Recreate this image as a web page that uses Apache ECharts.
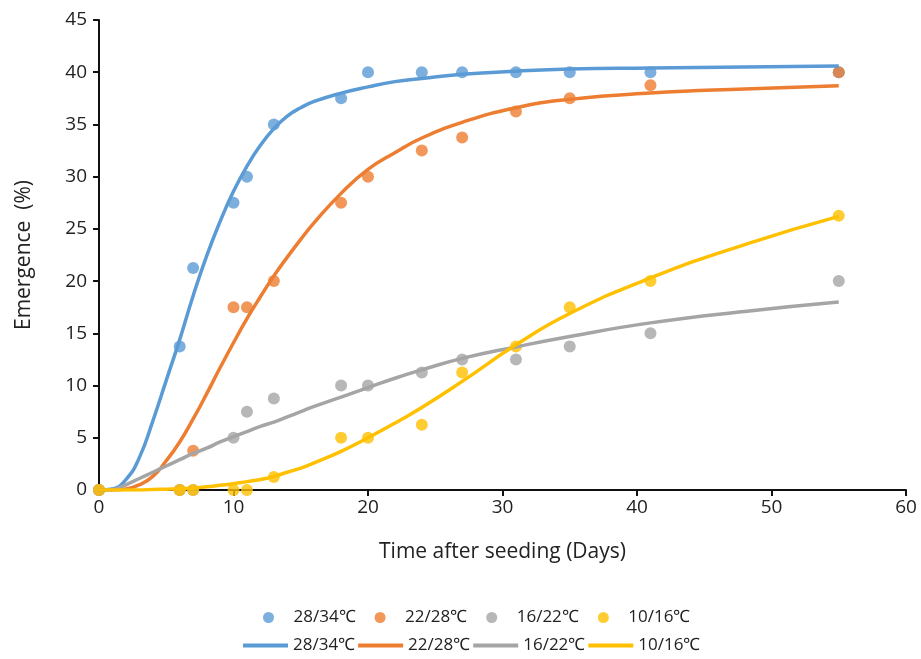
<!DOCTYPE html>
<html>
<head>
<meta charset="utf-8">
<script src="https://cdn.jsdelivr.net/npm/echarts@6/dist/echarts.min.js"></script>
<style>
	html, body {margin: 0; padding: 0; background: #fff;}
	#chart {width: 921px; height: 659px;}
</style>
</head>
<body>
<div id="chart"></div>
<script>
// observed emergence (%)
let days = [0, 6, 7, 10, 11, 13, 18, 20, 24, 27, 31, 35, 41, 55];
let obs2834 = [0, 13.75, 21.25, 27.5, 30, 35, 37.5, 40, 40, 40, 40, 40, 40, 40];
let obs2228 = [0, 0, 3.75, 17.5, 17.5, 20, 27.5, 30, 32.5, 33.75, 36.25, 37.5, 38.75, 40];
let obs1622 = [0, 0, 0, 5, 7.5, 8.75, 10, 10, 11.25, 12.5, 12.5, 13.75, 15, 20];
let obs1016 = [0, 0, 0, 0, 0, 1.25, 5, 5, 6.25, 11.25, 13.75, 17.5, 20, 26.25];

// fitted curves
let fitDays = [0, 1, 2, 3, 4, 5, 6, 7, 8, 9, 10, 11, 12, 13, 14, 15, 16, 18, 20, 22, 24, 27, 31, 35, 41, 48, 55];
let fit2834 = [0, 0.1, 1.0, 3.1, 6.6, 10.5, 14.4, 18.6, 22.4, 25.7, 28.6, 31, 33, 34.6, 35.8, 36.6, 37.2, 38, 38.6, 39.1, 39.4, 39.8, 40.1, 40.3, 40.4, 40.5, 40.6];
let fit2228 = [0, 0, 0.1, 0.5, 1.3, 2.8, 4.6, 6.8, 9.2, 11.7, 14.1, 16.4, 18.5, 20.5, 22.3, 24, 25.6, 28.4, 30.7, 32.3, 33.7, 35.2, 36.6, 37.4, 38, 38.4, 38.7];
let fit1622 = [0, 0.05, 0.5, 1.1, 1.7, 2.3, 2.9, 3.5, 4.0, 4.6, 5.1, 5.6, 6.1, 6.5, 7.0, 7.5, 8.0, 8.9, 9.8, 10.7, 11.5, 12.6, 13.7, 14.7, 16, 17.1, 18];
let fit1016 = [0, 0, 0, 0, 0.05, 0.08, 0.12, 0.2, 0.3, 0.45, 0.6, 0.8, 1.0, 1.3, 1.7, 2.1, 2.6, 3.7, 5.0, 6.4, 7.9, 10.4, 13.9, 16.9, 20.3, 23.5, 26.2];

let names = ['28/34℃', '22/28℃', '16/22℃', '10/16℃'];
let colors = ['#5B9BD5', '#ED7D31', '#A5A5A5', '#FFC000'];
let observed = [obs2834, obs2228, obs1622, obs1016];
let fitted = [fit2834, fit2228, fit1622, fit1016];

let font = '"Open Sans", sans-serif';
let pairs = (xs, ys) => xs.map((x, i) => [x, ys[i]]);

let scatterSeries = names.map((name, i) => ({
	name,
	type: 'scatter',
	symbolSize: 12,
	itemStyle: {color: colors[i]},
	data: pairs(days, observed[i]),
}));
let lineSeries = names.map((name, i) => ({
	name: name + ' ',
	type: 'line',
	smooth: 0.5,
	showSymbol: false,
	lineStyle: {color: colors[i], width: 3.5},
	itemStyle: {color: colors[i]},
	data: pairs(fitDays, fitted[i]),
}));

let chart = echarts.init(document.getElementById('chart'));
chart.setOption({
	animation: false,
	textStyle: {fontFamily: font},
	grid: {left: 99, right: 15, top: 20, bottom: 169},
	xAxis: {
		type: 'value',
		min: 0,
		max: 60,
		interval: 10,
		name: 'Time after seeding (Days)',
		nameLocation: 'middle',
		nameGap: 52,
		nameTextStyle: {fontSize: 21, color: '#222', fontFamily: font},
		axisLine: {lineStyle: {color: '#111', width: 2}},
		axisTick: {length: 6, lineStyle: {color: '#111', width: 2}},
		axisLabel: {fontSize: 19, color: '#222', margin: 8},
		splitLine: {show: false},
	},
	yAxis: {
		type: 'value',
		min: 0,
		max: 45,
		interval: 5,
		name: 'Emergence  (%)',
		nameLocation: 'middle',
		nameGap: 64,
		nameTextStyle: {fontSize: 21, color: '#222', fontFamily: font},
		axisLine: {show: true, lineStyle: {color: '#111', width: 2}},
		axisTick: {show: true, length: 6, lineStyle: {color: '#111', width: 2}},
		axisLabel: {fontSize: 19, color: '#222', margin: 12},
		splitLine: {show: false},
	},
	legend: [
		{
			data: names,
			top: 604,
			left: 258,
			icon: 'circle',
			itemWidth: 40,
			itemHeight: 11,
			itemGap: 19,
			textStyle: {fontSize: 17, color: '#222', fontFamily: font},
		},
		{
			data: names.map((n) => n + ' '),
			top: 632,
			left: 238,
			icon: 'rect',
			itemWidth: 45,
			itemHeight: 4,
			itemGap: 3,
			formatter: (n) => n.trim(),
			textStyle: {fontSize: 17, color: '#222', fontFamily: font},
		},
	],
	series: [...scatterSeries, ...lineSeries],
});
</script>
</body>
</html>
